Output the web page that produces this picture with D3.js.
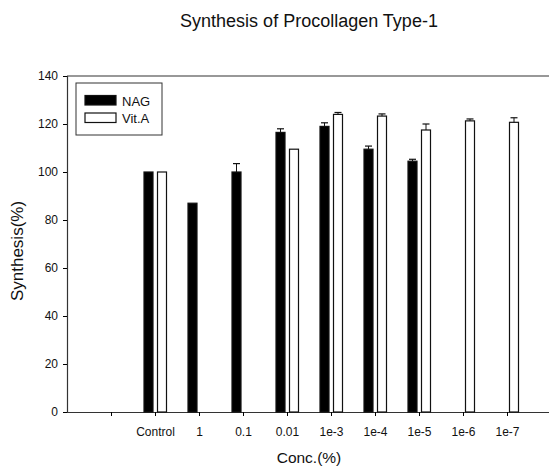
<!DOCTYPE html>
<html><head><meta charset="utf-8">
<script src="https://cdn.jsdelivr.net/npm/d3@7"></script>
<style>body{margin:0;background:#fff}svg{display:block;font-family:Arial,"Liberation Sans",sans-serif}</style>
</head><body>
<svg id="c" width="549" height="468"></svg>
<script>
const categories = ["", "Control", "1", "0.1", "0.01", "1e-3", "1e-4", "1e-5", "1e-6", "1e-7"];
const nagValues  = [null, 100, 87, 100, 116.5, 119, 109.5, 104.5, null, null];
const nagErr     = [null, 0, 0, 3.5, 1.5, 1.5, 1.3, 0.8, null, null];
const vitValues  = [null, 100, null, null, 109.5, 124, 123.3, 117.5, 121.3, 120.7];
const vitErr     = [null, 0, null, null, 0, 0.8, 0.9, 2.5, 0.8, 1.9];
const yTicks = [0, 20, 40, 60, 80, 100, 120, 140];
const seriesNames = ["NAG", "Vit.A"];

const svg = d3.select("#c");
const L = 67, R = 551, T = 76, B = 412;
const x = d3.scalePoint().domain(categories).range([L, R]).padding(1);
const y = d3.scaleLinear().domain([0, 140]).range([B, T]);

// top frame line
svg.append("line").attr("x1", L).attr("x2", 549).attr("y1", T).attr("y2", T)
  .attr("stroke", "#333").attr("stroke-width", 1.2);

const yAxis = svg.append("g").attr("transform", `translate(${L},0)`)
  .call(d3.axisLeft(y).tickValues(yTicks).tickSize(4).tickPadding(5));
yAxis.select(".domain").attr("stroke", "#333").attr("stroke-width", 1.2);
yAxis.selectAll("text").attr("font-size", 12).attr("fill", "#111");

const xAxis = svg.append("g").attr("transform", `translate(0,${B})`)
  .call(d3.axisBottom(x).tickSize(4).tickPadding(11).tickSizeOuter(0));
xAxis.select(".domain").attr("stroke", "#333").attr("stroke-width", 1.2)
  .attr("d", `M${L},0.5H549`);
xAxis.selectAll("text").attr("font-size", 12).attr("fill", "#111");

const bw = 9;
function drawSeries(vals, errs, off, fill) {
  const g = svg.append("g");
  categories.forEach((c, i) => {
    const v = vals[i];
    if (v == null) return;
    const x0 = x(c) + off;
    g.append("rect").attr("x", x0).attr("y", y(v)).attr("width", bw).attr("height", y(0) - y(v))
      .attr("fill", fill).attr("stroke", "#111").attr("stroke-width", 1.2);
    const e = errs[i];
    if (e > 0) {
      const cx = x0 + bw / 2;
      g.append("line").attr("x1", cx).attr("x2", cx).attr("y1", y(v)).attr("y2", y(v + e)).attr("stroke", "#111").attr("stroke-width", 1);
      g.append("line").attr("x1", cx - 3.5).attr("x2", cx + 3.5).attr("y1", y(v + e)).attr("y2", y(v + e)).attr("stroke", "#111").attr("stroke-width", 1.2);
    }
  });
}
drawSeries(nagValues, nagErr, -11, "#000");
drawSeries(vitValues, vitErr, 2.5, "#fff");

// legend
const lg = svg.append("g");
lg.append("rect").attr("x", 76).attr("y", 83).attr("width", 86).attr("height", 52)
  .attr("fill", "#fff").attr("stroke", "#333").attr("stroke-width", 1);
const lfills = ["#000", "#fff"];
seriesNames.forEach((n, i) => {
  const yy = 95.5 + i * 17.5;
  lg.append("rect").attr("x", 85).attr("y", yy).attr("width", 31).attr("height", 9.5)
    .attr("fill", lfills[i]).attr("stroke", "#111").attr("stroke-width", 1.2);
  lg.append("text").attr("x", 122).attr("y", yy + 10).attr("font-size", 13).attr("fill", "#111").text(n);
});

svg.append("text").attr("x", 309).attr("y", 27).attr("text-anchor", "middle")
  .attr("font-size", 18).attr("fill", "#111")
  .text("Synthesis of Procollagen Type-1");
svg.append("text").attr("x", 309).attr("y", 463).attr("text-anchor", "middle")
  .attr("font-size", 15.5).attr("fill", "#111").text("Conc.(%)");
svg.append("text").attr("transform", "translate(23,251) rotate(-90)").attr("text-anchor", "middle")
  .attr("font-size", 17).attr("fill", "#111").text("Synthesis(%)");
</script>
</body></html>
